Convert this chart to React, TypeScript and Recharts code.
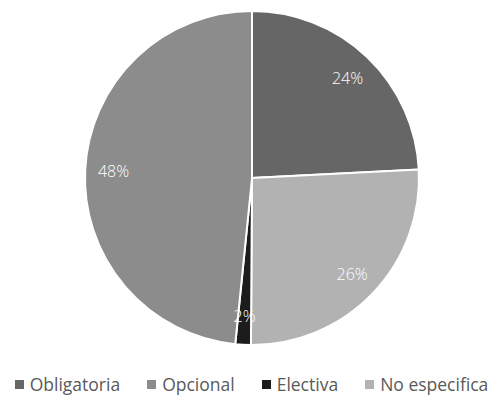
import { PieChart, Pie, Cell, Legend } from "recharts";

const names = ["Obligatoria", "No especifica", "Electiva", "Opcional"];
const values = [24.2, 25.9, 1.5, 48.4];
const colors = ["#666666", "#b2b2b2", "#1c1c1c", "#8c8c8c"];
const legendOrder = ["Obligatoria", "Opcional", "Electiva", "No especifica"];

const data = names.map((name, i) => ({ name, value: values[i] }));

const RAD = Math.PI / 180;
const FONT = "'Open Sans', sans-serif";

const renderLabel = (props: any) => {
  const { cx, cy, midAngle, outerRadius, value } = props;
  const r = outerRadius * 0.83;
  const x = cx + r * Math.cos(-midAngle * RAD);
  const y = cy + r * Math.sin(-midAngle * RAD);
  return (
    <text
      x={x}
      y={y}
      fill="#ffffff"
      fontSize={16}
      fontWeight={300}
      fontFamily={FONT}
      textAnchor="middle"
      dominantBaseline="central"
    >
      {`${Math.round(value)}%`}
    </text>
  );
};

const renderLegend = () => (
  <div
    style={{
      display: "flex",
      justifyContent: "center",
      gap: 27,
      fontFamily: FONT,
      fontSize: 17.5,
      fontWeight: 400,
      color: "#595959",
      whiteSpace: "nowrap",
    }}
  >
    {legendOrder.map((name) => (
      <div key={name} style={{ display: "flex", alignItems: "center" }}>
        <span
          style={{
            display: "inline-block",
            width: 9,
            height: 9,
            background: colors[names.indexOf(name)],
            marginRight: 6,
          }}
        />
        {name}
      </div>
    ))}
  </div>
);

export default function App() {
  return (
    <div style={{ position: "absolute", left: 0, top: 0, width: 503, height: 398, background: "#fff" }}>
      <PieChart width={503} height={398} margin={{ top: 0, right: 0, bottom: 0, left: 0 }}>
        <Pie
          data={data}
          dataKey="value"
          nameKey="name"
          cx={252}
          cy={178}
          outerRadius={167}
          startAngle={90}
          endAngle={-270}
          stroke="#ffffff"
          strokeWidth={2}
          label={renderLabel}
          labelLine={false}
          isAnimationActive={false}
        >
          {data.map((d, i) => (
            <Cell key={d.name} fill={colors[i]} />
          ))}
        </Pie>
        <Legend
          content={renderLegend}
          wrapperStyle={{ position: "absolute", left: 0, top: 372, width: 503 }}
        />
      </PieChart>
    </div>
  );
}
